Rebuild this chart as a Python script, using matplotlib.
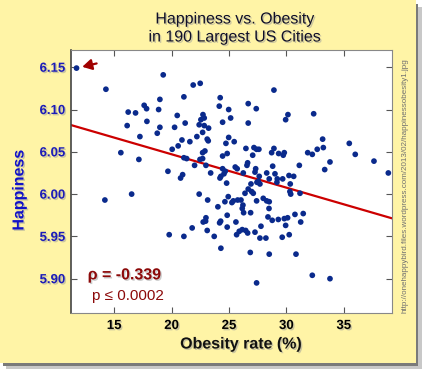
import matplotlib
matplotlib.use('Agg')
import matplotlib.pyplot as plt
import matplotlib.patheffects as pe
from matplotlib.patches import Rectangle
import numpy as np

# Obesity rate (%) and happiness score, one pair per city
obesity = [
    11.72, 14.28, 16.22, 16.86, 16.13, 17.61, 17.82, 17.85, 17.24, 15.58, 17.15, 14.19, 16.52,
    19.27, 21.88, 22.49, 28.91,
    18.98, 21.07, 24.23, 18.87, 24.15, 24.97, 20.49, 22.73, 22.55, 22.84, 25.14, 24.44, 21.18,
    22.40, 22.84, 23.22, 18.98, 20.26, 18.75, 22.70, 22.20, 23.10, 23.19, 24.97, 20.90, 21.59,
    24.73, 25.45, 20.57, 20.05, 22.90, 22.70, 24.84, 24.44, 21.07, 21.31, 22.47, 22.70, 22.00,
    22.99, 19.68, 23.40, 24.44, 24.67, 24.56, 24.29, 24.21, 20.96, 20.78, 24.79, 25.54, 25.71,
    26.67, 27.37, 26.67, 30.13, 29.93, 32.37, 33.15, 26.47, 27.17, 27.40, 27.60, 27.06, 28.91,
    28.71, 29.32, 29.81, 29.72, 31.85, 32.25, 32.68, 33.21, 31.12, 26.62, 26.56, 26.24, 27.32,
    27.26, 28.80, 28.28, 29.00, 30.22, 30.63, 27.63, 27.54, 27.43, 27.69, 26.91, 28.50, 29.20,
    29.17, 29.67, 30.33, 26.67, 33.33,
    22.40, 23.14, 24.93, 24.64, 25.25, 25.37, 25.75, 24.03, 24.84, 22.99, 22.75, 22.96, 24.18,
    24.27, 21.79, 25.60, 23.10, 24.84, 19.79, 21.07, 23.71, 25.66, 25.89, 24.29,
    26.97, 27.11, 26.39, 26.04, 30.30, 30.37, 31.18, 26.21, 26.15, 26.27, 26.88, 27.40, 27.98,
    28.28, 28.50, 28.48, 28.39, 28.76, 29.29, 29.81, 30.10, 30.74, 31.46, 31.24, 29.93, 27.78,
    26.15, 26.45, 26.62, 27.26, 27.69, 28.21, 29.63, 30.24, 26.85, 28.50, 30.83, 32.25, 27.40,
    35.47, 35.99, 33.79, 37.62, 38.87, 33.79,
]
happiness = [
    6.149, 6.124, 6.097, 6.096, 6.081, 6.105, 6.101, 6.086, 6.068, 6.049, 6.041, 5.993, 6.000,
    6.141, 6.129, 6.131, 6.123,
    6.112, 6.115, 6.114, 6.100, 6.104, 6.100, 6.093, 6.094, 6.088, 6.090, 6.090, 6.085, 6.084,
    6.082, 6.081, 6.078, 6.079, 6.079, 6.072, 6.073, 6.068, 6.065, 6.063, 6.067, 6.064, 6.062,
    6.060, 6.062, 6.057, 6.053, 6.051, 6.049, 6.048, 6.045, 6.043, 6.042, 6.041, 6.042, 6.034,
    6.034, 6.027, 6.025, 6.030, 6.027, 6.024, 6.021, 6.019, 6.023, 6.019, 6.013, 6.032, 6.030,
    6.107, 6.101, 6.084, 6.094, 6.088, 6.095, 6.065, 6.054, 6.055, 6.053, 6.053, 6.046, 6.054,
    6.049, 6.048, 6.049, 6.046, 6.049, 6.047, 6.053, 6.055, 6.034, 6.037, 6.034, 6.025, 6.030,
    6.026, 6.033, 6.025, 6.024, 6.022, 6.021, 6.021, 6.015, 6.014, 6.012, 6.012, 6.018, 6.018,
    6.014, 6.018, 6.012, 6.006, 6.029,
    6.000, 5.993, 5.997, 5.991, 5.990, 5.992, 5.993, 5.985, 5.975, 5.972, 5.967, 5.968, 5.966,
    5.968, 5.960, 5.967, 5.957, 5.961, 5.952, 5.950, 5.950, 5.952, 5.956, 5.936,
    6.003, 6.001, 6.001, 5.993, 6.003, 6.000, 6.001, 5.987, 5.983, 5.978, 5.978, 5.992, 5.995,
    5.992, 5.991, 5.983, 5.973, 5.969, 5.970, 5.971, 5.972, 5.976, 5.977, 5.967, 5.963, 5.962,
    5.958, 5.957, 5.954, 5.955, 5.948, 5.948, 5.949, 5.952, 5.931, 5.929, 5.929, 5.904, 5.895,
    6.060, 6.047, 6.038, 6.039, 6.025, 5.900,
]

# fitted line (happiness = intercept + slope * obesity)
fit_intercept = 6.126
fit_slope = -0.003946

x_ticks = [15, 20, 25, 30, 35]
y_ticks = [5.90, 5.95, 6.00, 6.05, 6.10, 6.15]
rho_text = 'ρ = -0.339'
p_text = 'p ≤ 0.0002'
url_text = 'http://onehappybird.files.wordpress.com/2013/02/happinessobesity1.jpg'

plt.rcParams['font.family'] = ['Liberation Sans', 'DejaVu Sans']

W, H = 425, 371
fig = plt.figure(figsize=(W / 100, H / 100), dpi=100, facecolor='white')

# yellow card with a grey drop shadow
shadow2 = Rectangle((6 / W, (H - 369) / H), 416 / W, 362 / H, transform=fig.transFigure,
                    facecolor='#c8c8c8', edgecolor='none', zorder=-12)
shadow1 = Rectangle((3 / W, (H - 366) / H), 415 / W, 362 / H, transform=fig.transFigure,
                    facecolor='#7a7a7a', edgecolor='none', zorder=-11)
card = Rectangle((0, (H - 363) / H), 416 / W, 363 / H, transform=fig.transFigure,
                 facecolor='#fff4a6', edgecolor='none', zorder=-10)
for r in (shadow2, shadow1, card):
    fig.add_artist(r)

ax = fig.add_axes([71 / W, 1 - 313 / H, 321 / W, 263 / H])
ax.set_facecolor('white')

shadow = [pe.withSimplePatchShadow(offset=(1, -1), shadow_rgbFace='#999999', alpha=0.5)]

ax.scatter(obesity, happiness, s=17, color='#0a2a8c', edgecolors='none', zorder=3)

xlim = (11.24, 39.19)
xs = np.array(xlim)
ax.plot(xs, fit_intercept + fit_slope * xs, color='#cc0000', lw=1.6, zorder=2)

# arrow pointing to the happiest city
ax.annotate('', xy=(obesity[0] + 0.5, happiness[0] + 0.0015),
            xytext=(obesity[0] + 1.75, happiness[0] + 0.0055),
            arrowprops=dict(arrowstyle='-|>,head_length=0.7,head_width=0.4',
                            color='#a00000', lw=1.6, mutation_scale=8,
                            shrinkA=0, shrinkB=0))

ax.set_xlim(xlim)
ax.set_ylim(5.8594, 6.1704)
ax.set_xticks(x_ticks)
ax.set_yticks(y_ticks)
ax.set_xticklabels([str(t) for t in x_ticks])
ax.set_yticklabels(['%.2f' % t for t in y_ticks])
ax.tick_params(direction='in', length=4, width=0.8, top=True, right=True, color='#555555')
ax.tick_params(axis='x', pad=5, labelsize=9.5)
ax.tick_params(axis='y', pad=4, labelsize=9.5, labelcolor='#1c1cb8')
for lab in ax.get_xticklabels():
    lab.set_fontweight('bold')
    lab.set_path_effects(shadow)
for lab in ax.get_yticklabels():
    lab.set_fontweight('bold')
    lab.set_path_effects(shadow)
for side in ['top', 'right', 'bottom']:
    ax.spines[side].set_color('#888888')
ax.spines['left'].set_color('#444444')
ax.spines['left'].set_linewidth(1.2)

ax.text(0.052, 0.145, rho_text, transform=ax.transAxes, fontsize=11.5, fontweight='bold',
        color='#8c0a0a', va='center', path_effects=shadow)
ax.text(0.064, 0.063, p_text, transform=ax.transAxes, fontsize=11, color='#8c0a0a',
        va='center')

fig.text(235 / W, 1 - 19 / H, 'Happiness vs. Obesity', ha='center', va='center',
         fontsize=11.5, color='#10102a', path_effects=shadow)
fig.text(235 / W, 1 - 37 / H, 'in 190 Largest US Cities', ha='center', va='center',
         fontsize=11.5, color='#10102a', path_effects=shadow)
fig.text(19 / W, 1 - 190 / H, 'Happiness', rotation=90, ha='center', va='center',
         fontsize=11.5, fontweight='bold', color='#1212c8', path_effects=shadow)
fig.text(241 / W, 1 - 344 / H, 'Obesity rate (%)', ha='center', va='center',
         fontsize=11.5, fontweight='bold', color='#111111', path_effects=shadow)
fig.text(405 / W, 1 - 186 / H, url_text, rotation=90, ha='center', va='center',
         fontsize=5.8, color='#707070')

fig.savefig('out.png', dpi=100, facecolor='white')
